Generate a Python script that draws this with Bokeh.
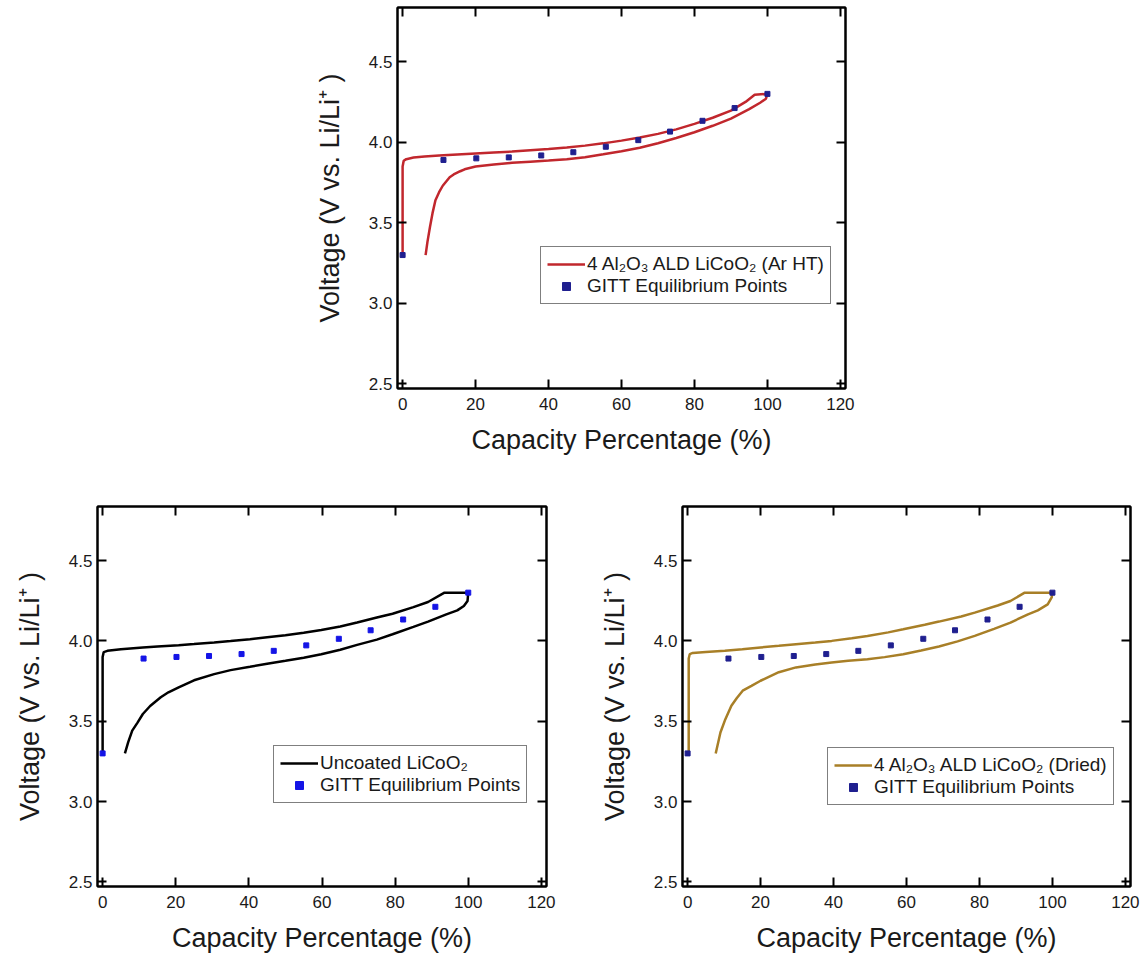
from bokeh.plotting import figure
from bokeh.layouts import column, row
from bokeh.models import (Range1d, LinearAxis, FixedTicker, Legend, LegendItem,
                          NumeralTickFormatter, CustomLabelingPolicy)
from bokeh.embed import file_html
from bokeh.resources import INLINE

# ---- data -------------------------------------------------------------
x_ticks = [0, 20, 40, 60, 80, 100, 120]
v_ticks = [2.5, 3.0, 3.5, 4.0, 4.5]

# GITT equilibrium points (shared by all three panels)
gitt_cap = [0, 11.2, 20.2, 29.1, 38, 46.8, 55.7, 64.6, 73.3, 82.2, 91, 100]
gitt_v = [3.30, 3.89, 3.90, 3.906, 3.918, 3.938, 3.972, 4.013, 4.066, 4.133, 4.212, 4.30]

# 4 Al2O3 ALD LiCoO2 (Ar HT): charge then discharge, one continuous trace
arht_cap = [0, 0, 0.3, 1, 3, 6, 10, 15, 20, 25, 30, 35, 40, 45, 50, 55, 60, 65, 70,
            75, 80, 85, 90, 94, 96.5, 100,
            100, 99.6, 98, 95, 90, 85, 80, 75, 70, 65, 60, 55, 50, 45, 40, 35, 30,
            25, 20, 17, 15.8, 14, 12.9, 11, 10, 9, 8.2, 7.5, 6.8, 6.3]
arht_v = [3.30, 3.85, 3.885, 3.895, 3.905, 3.912, 3.918, 3.924, 3.93, 3.936, 3.942,
          3.95, 3.958, 3.967, 3.979, 3.993, 4.01, 4.03, 4.052, 4.08, 4.114, 4.152,
          4.196, 4.25, 4.295, 4.30,
          4.30, 4.27, 4.245, 4.205, 4.147, 4.102, 4.062, 4.026, 3.994, 3.966, 3.944,
          3.925, 3.907, 3.895, 3.886, 3.879, 3.872, 3.862, 3.849, 3.832, 3.82, 3.80,
          3.783, 3.73, 3.69, 3.64, 3.56, 3.474, 3.38, 3.30]

# Uncoated LiCoO2
unc_cap = [0, 0, 0.3, 1.3, 5, 11, 15, 20.8, 25, 30.5, 35, 40.3, 45, 50, 55, 59.8, 65,
           69.6, 75, 79.3, 85, 89, 93.5, 100,
           100, 99.8, 98.8, 97, 94, 89, 85, 79.3, 75, 69.6, 65, 59.8, 55, 50, 45,
           40.3, 35, 30.5, 25, 20.8, 18, 15.9, 13, 11, 9.5, 8.1, 7, 6.1]
unc_v = [3.30, 3.90, 3.930, 3.938, 3.948, 3.959, 3.965, 3.973, 3.98, 3.99, 3.999,
         4.01, 4.022, 4.035, 4.05, 4.068, 4.09, 4.114, 4.145, 4.169, 4.21, 4.242,
         4.30, 4.30,
         4.30, 4.248, 4.217, 4.19, 4.165, 4.12, 4.087, 4.041, 4.008, 3.975, 3.945,
         3.917, 3.895, 3.876, 3.858, 3.839, 3.818, 3.793, 3.755, 3.711, 3.68, 3.649,
         3.595, 3.545, 3.49, 3.442, 3.37, 3.30]

# 4 Al2O3 ALD LiCoO2 (Dried)
dry_cap = [0.3, 0.3, 0.6, 1.4, 5, 10.2, 15, 20, 25, 29.7, 35, 39.5, 45, 49.3, 55,
           59.1, 65, 68.9, 75, 78.7, 85, 88.5, 92.4, 100,
           100, 99.8, 98.7, 96, 93.3, 88.5, 84, 78.7, 74, 68.9, 64, 59.1, 54, 49.3,
           44, 39.5, 35, 29.7, 25, 20, 17.5, 15.1, 13.5, 12, 10.2, 9, 7.7]
dry_v = [3.30, 3.89, 3.918, 3.925, 3.931, 3.938, 3.948, 3.959, 3.969, 3.979, 3.99,
         4.0, 4.017, 4.031, 4.053, 4.072, 4.1, 4.12, 4.152, 4.176, 4.22, 4.248,
         4.30, 4.30,
         4.30, 4.27, 4.227, 4.19, 4.165, 4.114, 4.075, 4.031, 3.997, 3.965, 3.94,
         3.917, 3.899, 3.886, 3.876, 3.866, 3.853, 3.835, 3.805, 3.752, 3.72, 3.69,
         3.645, 3.597, 3.504, 3.43, 3.30]

FONT = "Liberation Sans"
TXT = "#1a1a1a"


def style_axis(ax, show_labels):
    ax.axis_line_color = "black"
    ax.axis_line_width = 2
    ax.major_tick_line_color = "black"
    ax.major_tick_line_width = 2
    ax.major_tick_in = 9
    ax.major_tick_out = 0
    ax.minor_tick_line_color = None
    if show_labels:
        ax.major_label_text_font = FONT
        ax.major_label_text_font_size = "17px"
        ax.major_label_text_color = TXT
        ax.axis_label_text_font = FONT
        ax.axis_label_text_font_size = "27px"
        ax.axis_label_text_font_style = "normal"
        ax.axis_label_text_color = TXT
    else:
        # mirrored frame axes: ticks only, no labels
        ax.major_label_policy = CustomLabelingPolicy(code="return false")
        ax.major_label_standoff = 0
        ax.major_label_text_font_size = "1px"
        ax.axis_label = None


def panel(width, height, b_left, b_right, b_top, b_bottom,
          cap, volt, color, dot_color, label, legend_loc):
    p = figure(width=width, height=height, output_backend="svg",
               toolbar_location=None,
               x_range=Range1d(-1.4, 121.4), y_range=Range1d(2.472, 4.836),
               min_border_left=b_left, min_border_right=b_right,
               min_border_top=b_top, min_border_bottom=b_bottom,
               background_fill_color="white", border_fill_color="white")
    p.grid.visible = False
    p.outline_line_color = "black"
    p.outline_line_width = 2

    xa = p.xaxis[0]
    ya = p.yaxis[0]
    xa.ticker = FixedTicker(ticks=x_ticks)
    ya.ticker = FixedTicker(ticks=v_ticks)
    ya.formatter = NumeralTickFormatter(format="0.0")
    xa.axis_label = "Capacity Percentage (%)"
    ya.axis_label = "Voltage (V vs. Li/Li\u207a )"
    style_axis(xa, True)
    style_axis(ya, True)
    xa.major_label_standoff = 9
    xa.axis_label_standoff = 12
    ya.major_label_standoff = 5
    ya.axis_label_standoff = 21

    top = LinearAxis(ticker=FixedTicker(ticks=x_ticks))
    right = LinearAxis(ticker=FixedTicker(ticks=v_ticks))
    style_axis(top, False)
    style_axis(right, False)
    p.add_layout(top, "above")
    p.add_layout(right, "right")

    ln = p.line(cap, volt, line_color=color, line_width=2.5)
    dots = p.scatter(gitt_cap, gitt_v, marker="square", size=5,
                     fill_color=dot_color, line_color=dot_color)

    leg = Legend(items=[LegendItem(label=label, renderers=[ln]),
                        LegendItem(label="GITT Equilibrium Points", renderers=[dots])],
                 location=legend_loc,
                 label_text_font=FONT, label_text_font_size="19px",
                 label_text_color=TXT,
                 glyph_width=38, glyph_height=20, label_height=20,
                 label_standoff=2, spacing=0, padding=6, margin=0,
                 border_line_color="black", border_line_width=1.5,
                 background_fill_color="white", background_fill_alpha=1.0)
    p.add_layout(leg, "center")
    return p


p_top = panel(1142, 466, 397, 297, 7, 78,
              arht_cap, arht_v, "#C1272D", "#1F1F8F",
              "4 Al\u2082O\u2083 ALD LiCoO\u2082 (Ar HT)", (143, 84))
p_left = panel(571, 489, 97, 25, 40, 69,
               unc_cap, unc_v, "black", "#1414E6",
               "Uncoated LiCoO\u2082", (176, 83))
p_right = panel(571, 489, 111, 12, 40, 69,
                dry_cap, dry_v, "#A87F27", "#1F1F8F",
                "4 Al\u2082O\u2083 ALD LiCoO\u2082 (Dried)", (145, 81))

page = column(p_top, row(p_left, p_right, spacing=0), spacing=0)

open("out.html", "w").write(file_html(page, INLINE))
